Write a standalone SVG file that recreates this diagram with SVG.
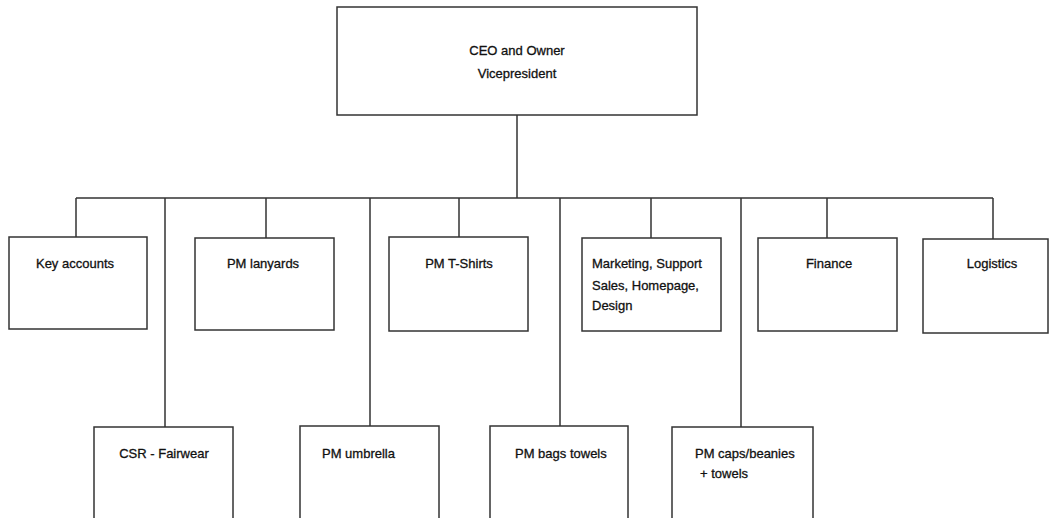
<svg xmlns="http://www.w3.org/2000/svg" width="1050" height="518" viewBox="0 0 1050 518">
<style>
.box{fill:#fff;stroke:#333;stroke-width:1.5}
.ln{fill:none;stroke:#333;stroke-width:1.5}
text{font-family:"Liberation Sans",Arial,sans-serif;font-size:13px;fill:#111;stroke:#111;stroke-width:0.3}
.c{text-anchor:middle}
</style>
<rect width="1050" height="518" fill="#fff"/>
<g id="connectors">
<path class="ln" d="M517 115V198M76 198H993M76 198V237M165 198V427M266 198V238M370 198V426M459 198V237M560 198V426M651 198V238M741 198V427M827 198V238M993 198V239"/>
</g>
<g id="ceo"><rect class="box" x="337" y="7" width="360" height="108"/><text class="c" x="517" y="55">CEO and Owner</text><text class="c" x="517" y="78">Vicepresident</text></g>
<g id="key-accounts"><rect class="box" x="9" y="237" width="138" height="92"/><text class="c" x="75" y="268">Key accounts</text></g>
<g id="pm-lanyards"><rect class="box" x="195" y="238" width="139" height="92"/><text class="c" x="263" y="268">PM lanyards</text></g>
<g id="pm-tshirts"><rect class="box" x="389" y="237" width="139" height="94"/><text class="c" x="459" y="268">PM T-Shirts</text></g>
<g id="marketing"><rect class="box" x="582" y="238" width="139" height="93"/><text x="592" y="268">Marketing, Support</text><text x="592" y="290">Sales, Homepage,</text><text x="592" y="310">Design</text></g>
<g id="finance"><rect class="box" x="758" y="238" width="139" height="93"/><text class="c" x="829" y="268">Finance</text></g>
<g id="logistics"><rect class="box" x="923" y="239" width="125" height="94"/><text class="c" x="992" y="268">Logistics</text></g>
<g id="csr"><rect class="box" x="94" y="427" width="139" height="110"/><text class="c" x="164" y="458">CSR - Fairwear</text></g>
<g id="pm-umbrella"><rect class="box" x="300" y="426" width="139" height="110"/><text x="322" y="458">PM umbrella</text></g>
<g id="pm-bags"><rect class="box" x="490" y="426" width="138" height="110"/><text x="515" y="458">PM bags towels</text></g>
<g id="pm-caps"><rect class="box" x="672" y="427" width="141" height="110"/><text x="695" y="458">PM caps/beanies</text><text x="700" y="478">+ towels</text></g>
</svg>
